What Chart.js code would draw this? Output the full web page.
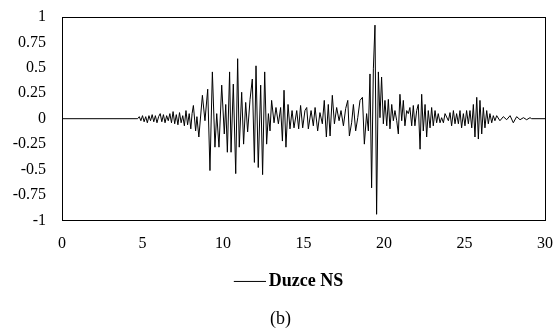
<!DOCTYPE html>
<html>
<head>
<meta charset="utf-8">
<script src="https://cdn.jsdelivr.net/npm/chart.js@4/dist/chart.umd.min.js"></script>
<style>
html,body{margin:0;padding:0;background:#fff;}
#wrap{width:553px;height:336px;position:relative;}
</style>
</head>
<body>
<div id="wrap"><canvas id="c" width="553" height="336"></canvas></div>
<script>
const seriesName = "Duzce NS";
const caption = "(b)";
const xTicks = [0, 5, 10, 15, 20, 25, 30];
const yTicks = [-1, -0.75, -0.5, -0.25, 0, 0.25, 0.5, 0.75, 1];

const time = [
  0, 4.6, 4.7, 4.8, 4.9, 5.0, 5.1, 5.2, 5.3, 5.4, 5.5, 5.6, 5.7, 5.8, 5.9, 6.0, 6.1, 6.2, 6.3, 6.4, 6.5, 6.6, 6.7, 6.8, 6.9, 7.0,
  7.1, 7.2, 7.3, 7.4, 7.5, 7.6, 7.7, 7.8, 7.9, 8.0, 8.08, 8.16, 8.3, 8.38, 8.5,
  8.72, 8.88, 9.05, 9.19, 9.34, 9.50, 9.61, 9.75, 9.92, 10.08, 10.17, 10.27, 10.41, 10.50, 10.64, 10.79, 10.91, 11.01,
  11.16, 11.28, 11.41, 11.53, 11.68, 11.82, 11.95,
  12.05, 12.19, 12.34, 12.46, 12.59, 12.71, 12.82, 12.92, 13.02, 13.17, 13.29, 13.44, 13.58, 13.69, 13.79, 13.91,
  14.04, 14.16, 14.29, 14.41, 14.58, 14.70, 14.82, 14.95, 15.09,
  15.2, 15.30, 15.47, 15.61, 15.72, 15.88, 16.02, 16.17, 16.29, 16.42, 16.54, 16.65, 16.79, 16.92, 17.06, 17.21,
  17.33, 17.48, 17.62, 17.75, 17.85, 17.99, 18.10, 18.24, 18.37, 18.51, 18.66, 18.78,
  18.92, 19.03, 19.13, 19.23, 19.34, 19.44, 19.54, 19.65, 19.75, 19.85, 19.96, 20.06, 20.17, 20.27, 20.37, 20.48,
  20.58, 20.68, 20.79, 20.89, 20.99, 21.10, 21.20, 21.30, 21.41, 21.51, 21.61, 21.72, 21.82, 21.92, 22.03,
  22.13, 22.24, 22.34, 22.44, 22.55, 22.65, 22.75, 22.86, 22.96, 23.06, 23.17, 23.27, 23.37, 23.48, 23.58, 23.69,
  23.79, 24.0, 24.10, 24.20, 24.31, 24.41, 24.51, 24.62, 24.72, 24.82, 24.93, 25.03, 25.13, 25.24, 25.34,
  25.45, 25.55, 25.65, 25.76, 25.86, 25.96, 26.07, 26.17, 26.27, 26.38, 26.48, 26.58, 26.69, 26.79, 26.89, 27.0,
  27.2, 27.41, 27.62, 27.83, 28.03, 28.24, 28.45, 28.66, 28.86, 29.07, 29.17, 30
];
const accel = [
  0, 0, 0, 0.02, -0.02, 0.03, -0.03, 0.02, -0.04, 0.03, -0.02, 0.04, -0.03, 0.03, -0.04, 0.02, 0.05, -0.03, 0.04, -0.04, 0.03, -0.02, 0.05, -0.04, 0.07, -0.05,
  0.04, -0.06, 0.06, -0.04, 0.03, -0.07, 0.08, -0.06, 0.05, -0.1, 0.05, 0.13, -0.12, 0.02, -0.18,
  0.23, -0.02, 0.29, -0.51, 0.46, -0.28, 0.05, -0.28, 0.33, -0.15, 0.14, -0.33, 0.46, -0.33, 0.34, -0.54, 0.59, -0.28,
  0.26, -0.25, 0.16, -0.13, 0.19, 0.39, -0.43,
  0.52, -0.48, 0.33, -0.55, 0.46, -0.25, 0.05, -0.12, 0.18, -0.04, 0.11, -0.05, 0.11, -0.22, 0.28, -0.28,
  0.14, -0.10, 0.08, -0.09, 0.08, -0.10, 0.13, -0.09, 0.08,
  0.11, -0.10, 0.08, -0.07, 0.11, -0.12, 0.06, -0.05, 0.18, -0.18, 0.14, -0.17, 0.23, -0.05, 0.11, -0.02,
  0.08, -0.07, 0.10, 0.18, -0.17, -0.04, 0.14, -0.12, 0.01, 0.18, 0.21, -0.25,
  0.05, -0.12, 0.44, -0.68, 0.49, 0.92, -0.94, 0.46, 0.01, 0.41, -0.05, 0.18, -0.07, 0.19, -0.10, 0.14,
  -0.02, 0.08, -0.02, -0.15, 0.24, -0.02, 0.18, -0.07, 0.08, 0.05, 0.11, -0.07, 0.13, -0.07, 0.08,
  0.14, -0.30, 0.24, -0.12, 0.14, -0.18, 0.08, -0.09, 0.11, -0.07, 0.08, -0.04, 0.05, -0.04, 0.01, -0.04,
  0.05, -0.02, 0.06, -0.07, 0.08, -0.05, 0.05, -0.05, 0.08, -0.09, 0.05, -0.07, 0.08, -0.05, 0.08,
  -0.09, 0.14, -0.18, 0.21, -0.20, 0.18, -0.15, 0.11, -0.09, 0.08, -0.05, 0.05, -0.04, 0.03, -0.02, 0.03,
  -0.02, 0.02, -0.01, 0.03, -0.04, 0.02, -0.01, 0.01, -0.01, 0.01, 0, 0
];

const points = time.map((t, i) => ({ x: t, y: accel[i] }));

const FONT = "'Liberation Serif', 'Times New Roman', serif";

// legend marker: a 32px line whose right end sits close to the label text
const marker = document.createElement('canvas');
marker.width = 38; marker.height = 3;
(function () {
  const m = marker.getContext('2d');
  m.fillStyle = '#000';
  m.fillRect(6, 1, 32, 1);
})();

const frame = {
  id: 'frame',
  afterLayout(chart) {
    const L = chart.legend;
    if (L) { L.left += 16; L.right += 16; }
    const T = chart.titleBlock;
    if (T) { T.left += 8; T.right += 8; }
  },
  afterDatasetsDraw(chart) {
    const a = chart.chartArea, ctx = chart.ctx;
    ctx.save();
    ctx.strokeStyle = '#000';
    ctx.lineWidth = 1;
    ctx.strokeRect(Math.round(a.left) + 0.5, Math.round(a.top) + 0.5,
                   Math.round(a.right - a.left), Math.round(a.bottom - a.top));
    ctx.restore();
  }
};

new Chart(document.getElementById('c'), {
  type: 'line',
  data: {
    datasets: [{
      label: seriesName,
      data: points,
      borderColor: '#000',
      backgroundColor: '#000',
      borderWidth: 1,
      pointRadius: 0,
      pointStyle: marker,
      tension: 0,
      fill: false
    }]
  },
  options: {
    responsive: false,
    animation: false,
    layout: { padding: { top: 17, right: 8, left: 0, bottom: 6 } },
    scales: {
      x: {
        type: 'linear',
        min: 0, max: 30,
        afterBuildTicks(s) { s.ticks = xTicks.map(v => ({ value: v })); },
        afterFit(s) { s.height = 44; s.paddingLeft = 0; s.paddingRight = 0; },
        grid: { display: false, drawTicks: false },
        border: { display: false },
        ticks: { color: '#000', font: { family: FONT, size: 16 }, padding: 14, maxRotation: 0,
                 callback: v => String(v) }
      },
      y: {
        min: -1, max: 1,
        afterBuildTicks(s) { s.ticks = yTicks.map(v => ({ value: v })); },
        afterFit(s) { s.width = 62; s.paddingTop = 0; s.paddingBottom = 0; },
        grid: { display: false, drawTicks: false },
        border: { display: false },
        ticks: { color: '#000', font: { family: FONT, size: 16 }, padding: 16,
                 callback: v => String(v) }
      }
    },
    plugins: {
      legend: {
        position: 'bottom',
        labels: {
          color: '#000',
          font: { family: FONT, size: 18, weight: 'bold' },
          usePointStyle: true,
          pointStyleWidth: 26,
          boxHeight: 3,
          padding: 8
        }
      },
      title: {
        display: true,
        position: 'bottom',
        text: caption,
        color: '#000',
        font: { family: FONT, size: 18, weight: 'normal' },
        padding: { top: 8, bottom: 0 }
      },
      tooltip: { enabled: false }
    }
  },
  plugins: [frame]
});
</script>
</body>
</html>
